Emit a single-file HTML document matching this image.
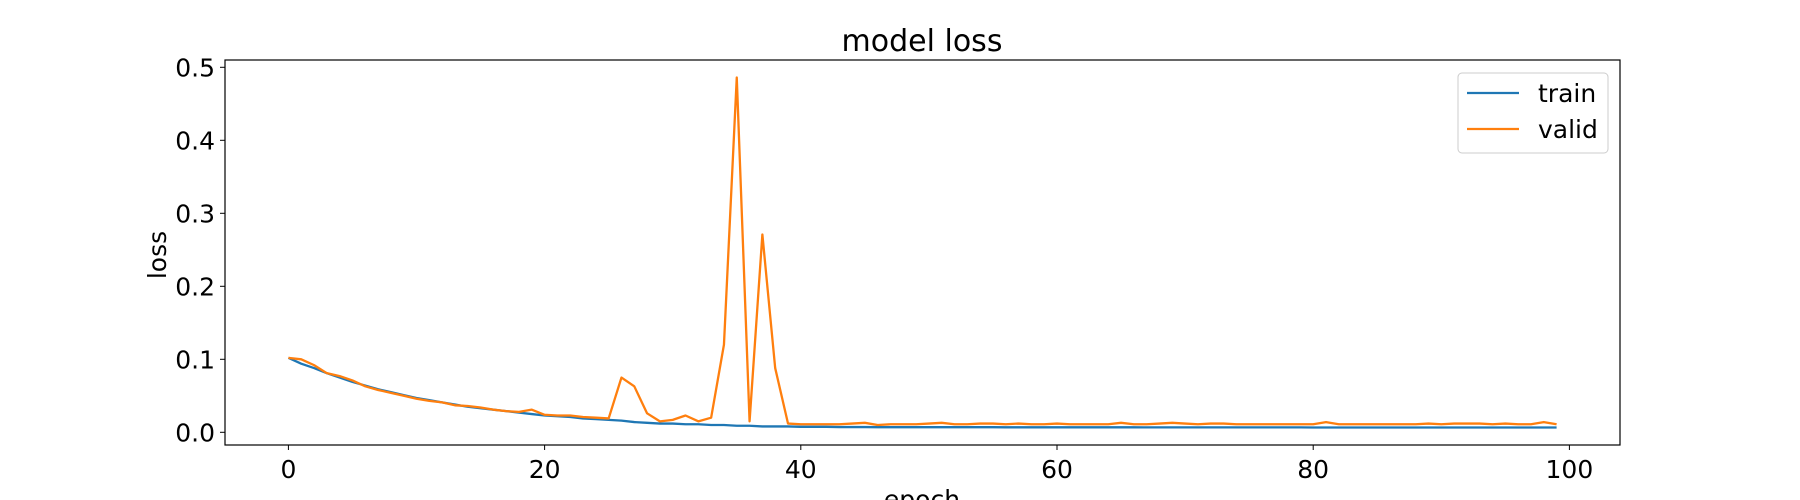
<!DOCTYPE html>
<html><head><meta charset="utf-8"><style>
html,body{margin:0;padding:0;background:#fff;width:1800px;height:500px;overflow:hidden}
svg{display:block}
text{font-family:"DejaVu Sans","Liberation Sans",sans-serif;fill:#000}
</style></head><body>
<svg id="chart" width="1800" height="500" viewBox="0 0 1800 500" xmlns="http://www.w3.org/2000/svg">
<rect x="0" y="0" width="1800" height="500" fill="#fff"/>
<text x="922" y="51" font-size="30" text-anchor="middle">model loss</text>
<g id="plot"></g>
<rect x="225" y="60" width="1395" height="385" fill="none" stroke="#000" stroke-width="1.2"/>
<g id="xticks"></g>
<g id="yticks"></g>
<text x="922" y="508" font-size="25" text-anchor="middle">epoch</text>
<text x="166" y="255" font-size="25" text-anchor="middle" transform="rotate(-90 166 255)">loss</text>
<g>
<rect x="1458" y="73" width="150" height="80" rx="4" fill="#fff" stroke="#ccc" stroke-width="1"/>
<line x1="1467" y1="93" x2="1519" y2="93" stroke="#1f77b4" stroke-width="2.2"/>
<text x="1538" y="102" font-size="25">train</text>
<line x1="1467" y1="129" x2="1519" y2="129" stroke="#ff7f0e" stroke-width="2.2"/>
<text x="1538" y="138" font-size="25">valid</text>
</g>
</svg>
<script>
const trainLoss=[0.102,0.094,0.088,0.081,0.075,0.069,0.064,0.059,0.055,0.051,0.047,0.044,0.041,0.038,0.035,0.033,0.031,0.029,0.027,0.025,0.023,0.022,0.021,0.019,0.018,0.017,0.016,0.014,0.013,0.012,0.012,0.011,0.011,0.010,0.010,0.009,0.009,0.008,0.008,0.008,
0.0075,0.0075,0.0075,0.0072,0.0072,0.0072,0.007,0.007,0.007,0.007,0.007,0.007,0.007,0.007,0.007,0.007,0.0068,0.0068,0.0068,0.0068,0.0068,0.0068,0.0068,0.0068,0.0068,0.0068,0.0068,0.0067,0.0067,0.0067,0.0067,0.0067,0.0067,0.0067,0.0067,0.0067,0.0067,0.0067,0.0067,0.0067,0.0066,0.0066,0.0066,0.0066,0.0066,0.0066,0.0066,0.0066,0.0066,0.0066,0.0066,0.0066,0.0066,0.0066,0.0066,0.0066,0.0066,0.0066,0.0066,0.0066];
const validLoss=[0.102,0.100,0.092,0.081,0.077,0.071,0.063,0.058,0.054,0.050,0.046,0.043,0.041,0.037,0.036,0.034,0.031,0.029,0.028,0.031,0.024,0.023,0.023,0.021,0.020,0.019,0.075,0.063,0.026,0.015,0.017,0.023,0.015,0.020,0.120,0.486,0.015,0.271,0.088,0.012,
0.011,0.011,0.011,0.011,0.012,0.013,0.010,0.011,0.011,0.011,0.012,0.013,0.011,0.011,0.012,0.012,0.011,0.012,0.011,0.011,0.012,0.011,0.011,0.011,0.011,0.013,0.011,0.011,0.012,0.013,0.012,0.011,0.012,0.012,0.011,0.011,0.011,0.011,0.011,0.011,0.011,0.014,0.011,0.011,0.011,0.011,0.011,0.011,0.011,0.012,0.011,0.012,0.012,0.012,0.011,0.012,0.011,0.011,0.014,0.011];
const xTicks=[0,20,40,60,80,100];
const yTicks=[0.0,0.1,0.2,0.3,0.4,0.5];
const yTickLabels=["0.0","0.1","0.2","0.3","0.4","0.5"];

const NS="http://www.w3.org/2000/svg";
const L=225,R=1620,T=60,B=445;
const xMin=-4.95,xMax=103.95,yMin=-0.0174,yMax=0.51;
function xs(v){return L+(v-xMin)/(xMax-xMin)*(R-L);}
function ys(v){return B-(v-yMin)/(yMax-yMin)*(B-T);}
function mk(tag,attrs){const e=document.createElementNS(NS,tag);for(const k in attrs)e.setAttribute(k,attrs[k]);return e;}

const plot=document.getElementById('plot');
function series(data,color,name){
  const pts=data.map((v,i)=>xs(i).toFixed(2)+","+ys(v).toFixed(2)).join(" ");
  const pl=mk('polyline',{points:pts,fill:"none",stroke:color,"stroke-width":2.3,"stroke-linejoin":"round"});
  
  
  plot.appendChild(pl);
}
series(trainLoss,"#1f77b4","train-line");
series(validLoss,"#ff7f0e","valid-line");

const xg=document.getElementById('xticks');
xTicks.forEach(t=>{
  const x=xs(t);
  const ln=mk('line',{x1:x,y1:B,x2:x,y2:B+5,stroke:"#000","stroke-width":1});
  
  
  xg.appendChild(ln);
  const tx=mk('text',{x:x,y:B+33,"font-size":25,"text-anchor":"middle"});
  tx.textContent=String(t);
  
  
  xg.appendChild(tx);
});
const yg=document.getElementById('yticks');
yTicks.forEach((t,i)=>{
  const y=ys(t);
  const ln=mk('line',{x1:L-5,y1:y,x2:L,y2:y,stroke:"#000","stroke-width":1});
  
  
  yg.appendChild(ln);
  const tx=mk('text',{x:L-10,y:y+9,"font-size":25,"text-anchor":"end"});
  tx.textContent=yTickLabels[i];
  
  
  yg.appendChild(tx);
});
</script>
</body></html>
